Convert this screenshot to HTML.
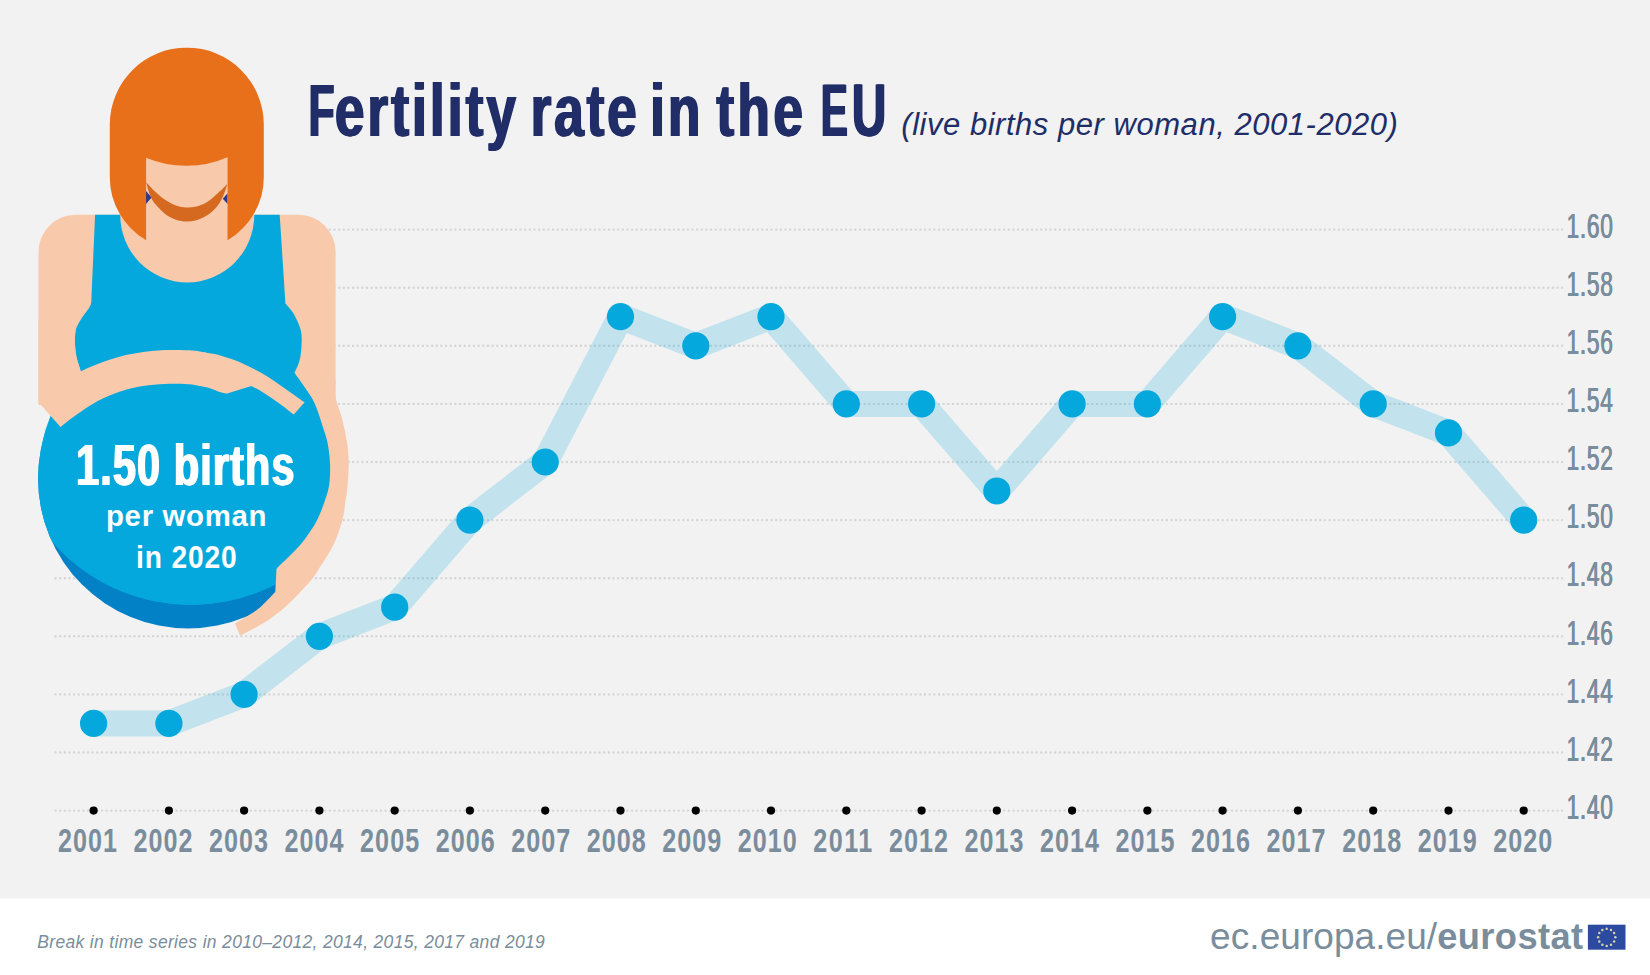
<!DOCTYPE html>
<html><head><meta charset="utf-8"><title>Fertility rate in the EU</title>
<style>html,body{margin:0;padding:0;background:#f2f2f2;}body{width:1650px;height:975px;overflow:hidden;font-family:"Liberation Sans",sans-serif;}svg{display:block}</style>
</head><body>
<svg width="1650" height="975" viewBox="0 0 1650 975">
<rect x="0" y="0" width="1650" height="975" fill="#f2f2f2"/>
<rect x="0" y="898.5" width="1650" height="76.5" fill="#ffffff"/>
<line x1="55.5" y1="810.6" x2="1563" y2="810.6" stroke="#d4d5d6" stroke-width="2.4" stroke-linecap="round" stroke-dasharray="0 4.65"/>
<line x1="55.5" y1="752.5" x2="1563" y2="752.5" stroke="#d4d5d6" stroke-width="2.4" stroke-linecap="round" stroke-dasharray="0 4.65"/>
<line x1="55.5" y1="694.4" x2="1563" y2="694.4" stroke="#d4d5d6" stroke-width="2.4" stroke-linecap="round" stroke-dasharray="0 4.65"/>
<line x1="55.5" y1="636.3" x2="1563" y2="636.3" stroke="#d4d5d6" stroke-width="2.4" stroke-linecap="round" stroke-dasharray="0 4.65"/>
<line x1="55.5" y1="578.2" x2="1563" y2="578.2" stroke="#d4d5d6" stroke-width="2.4" stroke-linecap="round" stroke-dasharray="0 4.65"/>
<line x1="55.5" y1="520.1" x2="1563" y2="520.1" stroke="#d4d5d6" stroke-width="2.4" stroke-linecap="round" stroke-dasharray="0 4.65"/>
<line x1="55.5" y1="462.0" x2="1563" y2="462.0" stroke="#d4d5d6" stroke-width="2.4" stroke-linecap="round" stroke-dasharray="0 4.65"/>
<line x1="55.5" y1="403.9" x2="1563" y2="403.9" stroke="#d4d5d6" stroke-width="2.4" stroke-linecap="round" stroke-dasharray="0 4.65"/>
<line x1="55.5" y1="345.8" x2="1563" y2="345.8" stroke="#d4d5d6" stroke-width="2.4" stroke-linecap="round" stroke-dasharray="0 4.65"/>
<line x1="55.5" y1="287.7" x2="1563" y2="287.7" stroke="#d4d5d6" stroke-width="2.4" stroke-linecap="round" stroke-dasharray="0 4.65"/>
<line x1="55.5" y1="229.6" x2="1563" y2="229.6" stroke="#d4d5d6" stroke-width="2.4" stroke-linecap="round" stroke-dasharray="0 4.65"/>
<polyline points="93.6,723.4 168.9,723.4 244.1,694.4 319.4,636.3 394.7,607.2 469.9,520.1 545.2,462.0 620.5,316.7 695.8,345.8 771.0,316.7 846.3,403.9 921.6,403.9 996.8,491.0 1072.1,403.9 1147.4,403.9 1222.6,316.7 1297.9,345.8 1373.2,403.9 1448.5,432.9 1523.7,520.1" fill="none" stroke="#05a8dc" stroke-opacity="0.2" stroke-width="26" stroke-linejoin="round" stroke-linecap="round"/>
<circle cx="93.6" cy="723.4" r="13.6" fill="#05a8dc"/>
<circle cx="168.9" cy="723.4" r="13.6" fill="#05a8dc"/>
<circle cx="244.1" cy="694.4" r="13.6" fill="#05a8dc"/>
<circle cx="319.4" cy="636.3" r="13.6" fill="#05a8dc"/>
<circle cx="394.7" cy="607.2" r="13.6" fill="#05a8dc"/>
<circle cx="469.9" cy="520.1" r="13.6" fill="#05a8dc"/>
<circle cx="545.2" cy="462.0" r="13.6" fill="#05a8dc"/>
<circle cx="620.5" cy="316.7" r="13.6" fill="#05a8dc"/>
<circle cx="695.8" cy="345.8" r="13.6" fill="#05a8dc"/>
<circle cx="771.0" cy="316.7" r="13.6" fill="#05a8dc"/>
<circle cx="846.3" cy="403.9" r="13.6" fill="#05a8dc"/>
<circle cx="921.6" cy="403.9" r="13.6" fill="#05a8dc"/>
<circle cx="996.8" cy="491.0" r="13.6" fill="#05a8dc"/>
<circle cx="1072.1" cy="403.9" r="13.6" fill="#05a8dc"/>
<circle cx="1147.4" cy="403.9" r="13.6" fill="#05a8dc"/>
<circle cx="1222.6" cy="316.7" r="13.6" fill="#05a8dc"/>
<circle cx="1297.9" cy="345.8" r="13.6" fill="#05a8dc"/>
<circle cx="1373.2" cy="403.9" r="13.6" fill="#05a8dc"/>
<circle cx="1448.5" cy="432.9" r="13.6" fill="#05a8dc"/>
<circle cx="1523.7" cy="520.1" r="13.6" fill="#05a8dc"/>
<circle cx="93.6" cy="810.6" r="4.1" fill="#000"/>
<circle cx="168.9" cy="810.6" r="4.1" fill="#000"/>
<circle cx="244.1" cy="810.6" r="4.1" fill="#000"/>
<circle cx="319.4" cy="810.6" r="4.1" fill="#000"/>
<circle cx="394.7" cy="810.6" r="4.1" fill="#000"/>
<circle cx="469.9" cy="810.6" r="4.1" fill="#000"/>
<circle cx="545.2" cy="810.6" r="4.1" fill="#000"/>
<circle cx="620.5" cy="810.6" r="4.1" fill="#000"/>
<circle cx="695.8" cy="810.6" r="4.1" fill="#000"/>
<circle cx="771.0" cy="810.6" r="4.1" fill="#000"/>
<circle cx="846.3" cy="810.6" r="4.1" fill="#000"/>
<circle cx="921.6" cy="810.6" r="4.1" fill="#000"/>
<circle cx="996.8" cy="810.6" r="4.1" fill="#000"/>
<circle cx="1072.1" cy="810.6" r="4.1" fill="#000"/>
<circle cx="1147.4" cy="810.6" r="4.1" fill="#000"/>
<circle cx="1222.6" cy="810.6" r="4.1" fill="#000"/>
<circle cx="1297.9" cy="810.6" r="4.1" fill="#000"/>
<circle cx="1373.2" cy="810.6" r="4.1" fill="#000"/>
<circle cx="1448.5" cy="810.6" r="4.1" fill="#000"/>
<circle cx="1523.7" cy="810.6" r="4.1" fill="#000"/>
<g transform="translate(57.96,852) scale(0.74,1)"><text x="0" y="0" font-family="Liberation Sans, sans-serif" font-weight="bold" font-size="34" fill="#7a8d9c" textLength="79.73" lengthAdjust="spacing">2001</text></g>
<g transform="translate(133.50,852) scale(0.74,1)"><text x="0" y="0" font-family="Liberation Sans, sans-serif" font-weight="bold" font-size="34" fill="#7a8d9c" textLength="79.73" lengthAdjust="spacing">2002</text></g>
<g transform="translate(209.04,852) scale(0.74,1)"><text x="0" y="0" font-family="Liberation Sans, sans-serif" font-weight="bold" font-size="34" fill="#7a8d9c" textLength="79.73" lengthAdjust="spacing">2003</text></g>
<g transform="translate(284.58,852) scale(0.74,1)"><text x="0" y="0" font-family="Liberation Sans, sans-serif" font-weight="bold" font-size="34" fill="#7a8d9c" textLength="79.73" lengthAdjust="spacing">2004</text></g>
<g transform="translate(360.12,852) scale(0.74,1)"><text x="0" y="0" font-family="Liberation Sans, sans-serif" font-weight="bold" font-size="34" fill="#7a8d9c" textLength="79.73" lengthAdjust="spacing">2005</text></g>
<g transform="translate(435.66,852) scale(0.74,1)"><text x="0" y="0" font-family="Liberation Sans, sans-serif" font-weight="bold" font-size="34" fill="#7a8d9c" textLength="79.73" lengthAdjust="spacing">2006</text></g>
<g transform="translate(511.20,852) scale(0.74,1)"><text x="0" y="0" font-family="Liberation Sans, sans-serif" font-weight="bold" font-size="34" fill="#7a8d9c" textLength="79.73" lengthAdjust="spacing">2007</text></g>
<g transform="translate(586.74,852) scale(0.74,1)"><text x="0" y="0" font-family="Liberation Sans, sans-serif" font-weight="bold" font-size="34" fill="#7a8d9c" textLength="79.73" lengthAdjust="spacing">2008</text></g>
<g transform="translate(662.28,852) scale(0.74,1)"><text x="0" y="0" font-family="Liberation Sans, sans-serif" font-weight="bold" font-size="34" fill="#7a8d9c" textLength="79.73" lengthAdjust="spacing">2009</text></g>
<g transform="translate(737.82,852) scale(0.74,1)"><text x="0" y="0" font-family="Liberation Sans, sans-serif" font-weight="bold" font-size="34" fill="#7a8d9c" textLength="79.73" lengthAdjust="spacing">2010</text></g>
<g transform="translate(813.36,852) scale(0.74,1)"><text x="0" y="0" font-family="Liberation Sans, sans-serif" font-weight="bold" font-size="34" fill="#7a8d9c" textLength="79.73" lengthAdjust="spacing">2011</text></g>
<g transform="translate(888.90,852) scale(0.74,1)"><text x="0" y="0" font-family="Liberation Sans, sans-serif" font-weight="bold" font-size="34" fill="#7a8d9c" textLength="79.73" lengthAdjust="spacing">2012</text></g>
<g transform="translate(964.44,852) scale(0.74,1)"><text x="0" y="0" font-family="Liberation Sans, sans-serif" font-weight="bold" font-size="34" fill="#7a8d9c" textLength="79.73" lengthAdjust="spacing">2013</text></g>
<g transform="translate(1039.98,852) scale(0.74,1)"><text x="0" y="0" font-family="Liberation Sans, sans-serif" font-weight="bold" font-size="34" fill="#7a8d9c" textLength="79.73" lengthAdjust="spacing">2014</text></g>
<g transform="translate(1115.52,852) scale(0.74,1)"><text x="0" y="0" font-family="Liberation Sans, sans-serif" font-weight="bold" font-size="34" fill="#7a8d9c" textLength="79.73" lengthAdjust="spacing">2015</text></g>
<g transform="translate(1191.06,852) scale(0.74,1)"><text x="0" y="0" font-family="Liberation Sans, sans-serif" font-weight="bold" font-size="34" fill="#7a8d9c" textLength="79.73" lengthAdjust="spacing">2016</text></g>
<g transform="translate(1266.60,852) scale(0.74,1)"><text x="0" y="0" font-family="Liberation Sans, sans-serif" font-weight="bold" font-size="34" fill="#7a8d9c" textLength="79.73" lengthAdjust="spacing">2017</text></g>
<g transform="translate(1342.14,852) scale(0.74,1)"><text x="0" y="0" font-family="Liberation Sans, sans-serif" font-weight="bold" font-size="34" fill="#7a8d9c" textLength="79.73" lengthAdjust="spacing">2018</text></g>
<g transform="translate(1417.68,852) scale(0.74,1)"><text x="0" y="0" font-family="Liberation Sans, sans-serif" font-weight="bold" font-size="34" fill="#7a8d9c" textLength="79.73" lengthAdjust="spacing">2019</text></g>
<g transform="translate(1493.22,852) scale(0.74,1)"><text x="0" y="0" font-family="Liberation Sans, sans-serif" font-weight="bold" font-size="34" fill="#7a8d9c" textLength="79.73" lengthAdjust="spacing">2020</text></g>
<g transform="translate(1566.20,818.8) scale(0.66,1)"><text x="0" y="0" font-family="Liberation Sans, sans-serif" font-weight="normal" font-size="34.5" fill="#7a8d9c" textLength="70.30" lengthAdjust="spacing">1.40</text></g>
<g transform="translate(1566.50,818.8) scale(0.66,1)"><text x="0" y="0" font-family="Liberation Sans, sans-serif" font-weight="normal" font-size="34.5" fill="#7a8d9c" textLength="70.30" lengthAdjust="spacing">1.40</text></g>
<g transform="translate(1566.80,818.8) scale(0.66,1)"><text x="0" y="0" font-family="Liberation Sans, sans-serif" font-weight="normal" font-size="34.5" fill="#7a8d9c" textLength="70.30" lengthAdjust="spacing">1.40</text></g>
<g transform="translate(1566.20,760.7) scale(0.66,1)"><text x="0" y="0" font-family="Liberation Sans, sans-serif" font-weight="normal" font-size="34.5" fill="#7a8d9c" textLength="70.30" lengthAdjust="spacing">1.42</text></g>
<g transform="translate(1566.50,760.7) scale(0.66,1)"><text x="0" y="0" font-family="Liberation Sans, sans-serif" font-weight="normal" font-size="34.5" fill="#7a8d9c" textLength="70.30" lengthAdjust="spacing">1.42</text></g>
<g transform="translate(1566.80,760.7) scale(0.66,1)"><text x="0" y="0" font-family="Liberation Sans, sans-serif" font-weight="normal" font-size="34.5" fill="#7a8d9c" textLength="70.30" lengthAdjust="spacing">1.42</text></g>
<g transform="translate(1566.20,702.6) scale(0.66,1)"><text x="0" y="0" font-family="Liberation Sans, sans-serif" font-weight="normal" font-size="34.5" fill="#7a8d9c" textLength="70.30" lengthAdjust="spacing">1.44</text></g>
<g transform="translate(1566.50,702.6) scale(0.66,1)"><text x="0" y="0" font-family="Liberation Sans, sans-serif" font-weight="normal" font-size="34.5" fill="#7a8d9c" textLength="70.30" lengthAdjust="spacing">1.44</text></g>
<g transform="translate(1566.80,702.6) scale(0.66,1)"><text x="0" y="0" font-family="Liberation Sans, sans-serif" font-weight="normal" font-size="34.5" fill="#7a8d9c" textLength="70.30" lengthAdjust="spacing">1.44</text></g>
<g transform="translate(1566.20,644.5) scale(0.66,1)"><text x="0" y="0" font-family="Liberation Sans, sans-serif" font-weight="normal" font-size="34.5" fill="#7a8d9c" textLength="70.30" lengthAdjust="spacing">1.46</text></g>
<g transform="translate(1566.50,644.5) scale(0.66,1)"><text x="0" y="0" font-family="Liberation Sans, sans-serif" font-weight="normal" font-size="34.5" fill="#7a8d9c" textLength="70.30" lengthAdjust="spacing">1.46</text></g>
<g transform="translate(1566.80,644.5) scale(0.66,1)"><text x="0" y="0" font-family="Liberation Sans, sans-serif" font-weight="normal" font-size="34.5" fill="#7a8d9c" textLength="70.30" lengthAdjust="spacing">1.46</text></g>
<g transform="translate(1566.20,586.4) scale(0.66,1)"><text x="0" y="0" font-family="Liberation Sans, sans-serif" font-weight="normal" font-size="34.5" fill="#7a8d9c" textLength="70.30" lengthAdjust="spacing">1.48</text></g>
<g transform="translate(1566.50,586.4) scale(0.66,1)"><text x="0" y="0" font-family="Liberation Sans, sans-serif" font-weight="normal" font-size="34.5" fill="#7a8d9c" textLength="70.30" lengthAdjust="spacing">1.48</text></g>
<g transform="translate(1566.80,586.4) scale(0.66,1)"><text x="0" y="0" font-family="Liberation Sans, sans-serif" font-weight="normal" font-size="34.5" fill="#7a8d9c" textLength="70.30" lengthAdjust="spacing">1.48</text></g>
<g transform="translate(1566.20,528.3) scale(0.66,1)"><text x="0" y="0" font-family="Liberation Sans, sans-serif" font-weight="normal" font-size="34.5" fill="#7a8d9c" textLength="70.30" lengthAdjust="spacing">1.50</text></g>
<g transform="translate(1566.50,528.3) scale(0.66,1)"><text x="0" y="0" font-family="Liberation Sans, sans-serif" font-weight="normal" font-size="34.5" fill="#7a8d9c" textLength="70.30" lengthAdjust="spacing">1.50</text></g>
<g transform="translate(1566.80,528.3) scale(0.66,1)"><text x="0" y="0" font-family="Liberation Sans, sans-serif" font-weight="normal" font-size="34.5" fill="#7a8d9c" textLength="70.30" lengthAdjust="spacing">1.50</text></g>
<g transform="translate(1566.20,470.2) scale(0.66,1)"><text x="0" y="0" font-family="Liberation Sans, sans-serif" font-weight="normal" font-size="34.5" fill="#7a8d9c" textLength="70.30" lengthAdjust="spacing">1.52</text></g>
<g transform="translate(1566.50,470.2) scale(0.66,1)"><text x="0" y="0" font-family="Liberation Sans, sans-serif" font-weight="normal" font-size="34.5" fill="#7a8d9c" textLength="70.30" lengthAdjust="spacing">1.52</text></g>
<g transform="translate(1566.80,470.2) scale(0.66,1)"><text x="0" y="0" font-family="Liberation Sans, sans-serif" font-weight="normal" font-size="34.5" fill="#7a8d9c" textLength="70.30" lengthAdjust="spacing">1.52</text></g>
<g transform="translate(1566.20,412.1) scale(0.66,1)"><text x="0" y="0" font-family="Liberation Sans, sans-serif" font-weight="normal" font-size="34.5" fill="#7a8d9c" textLength="70.30" lengthAdjust="spacing">1.54</text></g>
<g transform="translate(1566.50,412.1) scale(0.66,1)"><text x="0" y="0" font-family="Liberation Sans, sans-serif" font-weight="normal" font-size="34.5" fill="#7a8d9c" textLength="70.30" lengthAdjust="spacing">1.54</text></g>
<g transform="translate(1566.80,412.1) scale(0.66,1)"><text x="0" y="0" font-family="Liberation Sans, sans-serif" font-weight="normal" font-size="34.5" fill="#7a8d9c" textLength="70.30" lengthAdjust="spacing">1.54</text></g>
<g transform="translate(1566.20,354.0) scale(0.66,1)"><text x="0" y="0" font-family="Liberation Sans, sans-serif" font-weight="normal" font-size="34.5" fill="#7a8d9c" textLength="70.30" lengthAdjust="spacing">1.56</text></g>
<g transform="translate(1566.50,354.0) scale(0.66,1)"><text x="0" y="0" font-family="Liberation Sans, sans-serif" font-weight="normal" font-size="34.5" fill="#7a8d9c" textLength="70.30" lengthAdjust="spacing">1.56</text></g>
<g transform="translate(1566.80,354.0) scale(0.66,1)"><text x="0" y="0" font-family="Liberation Sans, sans-serif" font-weight="normal" font-size="34.5" fill="#7a8d9c" textLength="70.30" lengthAdjust="spacing">1.56</text></g>
<g transform="translate(1566.20,295.9) scale(0.66,1)"><text x="0" y="0" font-family="Liberation Sans, sans-serif" font-weight="normal" font-size="34.5" fill="#7a8d9c" textLength="70.30" lengthAdjust="spacing">1.58</text></g>
<g transform="translate(1566.50,295.9) scale(0.66,1)"><text x="0" y="0" font-family="Liberation Sans, sans-serif" font-weight="normal" font-size="34.5" fill="#7a8d9c" textLength="70.30" lengthAdjust="spacing">1.58</text></g>
<g transform="translate(1566.80,295.9) scale(0.66,1)"><text x="0" y="0" font-family="Liberation Sans, sans-serif" font-weight="normal" font-size="34.5" fill="#7a8d9c" textLength="70.30" lengthAdjust="spacing">1.58</text></g>
<g transform="translate(1566.20,237.8) scale(0.66,1)"><text x="0" y="0" font-family="Liberation Sans, sans-serif" font-weight="normal" font-size="34.5" fill="#7a8d9c" textLength="70.30" lengthAdjust="spacing">1.60</text></g>
<g transform="translate(1566.50,237.8) scale(0.66,1)"><text x="0" y="0" font-family="Liberation Sans, sans-serif" font-weight="normal" font-size="34.5" fill="#7a8d9c" textLength="70.30" lengthAdjust="spacing">1.60</text></g>
<g transform="translate(1566.80,237.8) scale(0.66,1)"><text x="0" y="0" font-family="Liberation Sans, sans-serif" font-weight="normal" font-size="34.5" fill="#7a8d9c" textLength="70.30" lengthAdjust="spacing">1.60</text></g>
<path d="M38.5,405 L38.5,251.8 A37,37 0 0 1 75.5,214.8 L298.6,214.8 A37,37 0 0 1 335.6,251.8 L335.6,405 Z" fill="#f8c9ab"/>
<defs><clipPath id="bc"><circle cx="191" cy="420.2" r="184.7"/></clipPath></defs>
<defs><clipPath id="lowc"><rect x="0" y="505" width="400" height="200"/></clipPath></defs>
<circle cx="188" cy="478.6" r="149.9" fill="#0381c6"/>
<g clip-path="url(#bc)"><circle cx="188" cy="478.6" r="149.9" fill="#05a8dc"/><circle cx="184.8" cy="472" r="145.5" fill="#05a8dc"/></g>
<path d="M335.6,380 C335.6,382.9 334.6,391.2 335.6,397.5 C336.7,403.8 340.0,410.5 341.9,418.0 C343.8,425.5 345.9,435.1 347.0,442.6 C348.1,450.1 348.6,455.7 348.7,463.2 C348.8,470.7 347.9,481.7 347.4,487.8 C346.9,493.9 346.5,494.6 345.6,500.0 C344.8,505.4 344.4,513.0 342.3,520.5 C340.2,528.0 336.9,537.6 333.3,545.1 C329.8,552.6 324.7,559.8 321.0,565.6 C317.3,571.4 316.4,573.9 311.2,580.0 C306.0,586.1 296.9,596.0 290.0,602.5 C283.1,609.0 276.7,614.3 270.0,619.0 C263.3,623.7 255.0,627.8 250.0,630.5 C245.0,633.2 241.7,634.7 240.0,635.5 L235,623.5 C238.8,621.1 251.3,614.2 258.0,609.0 C264.7,603.8 272.4,594.8 275.3,592.0 L275.3,592 L276.5,569 L278,567 C280.4,564.7 287.9,557.9 292.3,553.3 C296.7,548.7 300.5,544.9 304.6,539.4 C308.7,533.9 313.5,527.1 316.9,520.5 C320.3,513.9 323.0,506.1 325.1,500.0 C327.2,493.9 328.5,490.1 329.3,484.0 C330.1,477.9 330.3,470.1 330.0,463.2 C329.7,456.3 328.7,448.6 327.5,442.6 C326.3,436.6 324.6,432.5 323.0,427.4 C321.4,422.3 319.7,416.6 318.0,412.0 C316.3,407.4 315.4,404.3 312.8,399.7 C310.2,395.1 305.7,388.8 302.6,384.4 C299.5,380.0 295.8,375.0 294.4,373.1 L300,360 Z" fill="#f8c9ab"/>
<path d="M95.1,214.8 L91.4,298.5 C91.2,299.7 91.8,302.6 90.2,305.9 C88.6,309.2 84.0,314.2 81.6,318.2 C79.2,322.2 76.8,326.1 75.7,330.0 C74.6,333.9 74.8,337.0 74.9,341.3 C75.0,345.6 75.3,351.0 76.3,356.0 C77.3,361.0 80.0,368.7 80.8,371.2 L120,400 L290,400 L312.8,399.7 L302.6,384.4 L294.4,373.1 C295.2,371.1 298.3,365.4 299.5,360.8 C300.7,356.2 301.3,350.5 301.5,345.4 C301.7,340.3 302.1,335.4 300.7,330.0 C299.3,324.6 295.9,317.7 293.3,313.3 C290.8,308.9 286.7,305.0 285.4,303.4 L279.7,214.8 L254.3,214.8 A67,67.6 0 0 1 120.2,214.8 Z" fill="#05a8dc"/>
<path d="M38.5,320 L38.5,402.2 L60.5,427.1 C62.9,425.2 68.9,420.1 75.1,415.8 C81.3,411.5 90.2,405.2 97.7,401.1 C105.2,397.1 112.8,394.0 120.3,391.5 C127.8,389.0 135.4,387.2 142.9,385.9 C150.4,384.6 157.9,384.2 165.4,383.9 C172.9,383.6 182.2,383.8 188.0,384.2 C193.8,384.6 196.3,385.3 200.0,386.0 C203.7,386.7 206.6,387.2 210.0,388.3 C213.4,389.4 217.6,391.4 220.5,392.3 C223.4,393.2 226.1,393.4 227.2,393.6 L251.3,385.9 C253.0,386.8 258.1,389.4 261.5,391.5 C264.9,393.6 268.4,395.9 271.8,398.2 C275.2,400.5 278.3,402.7 282.0,405.4 C285.7,408.1 291.8,413.1 293.8,414.6 L304.6,402.3 C300.8,399.6 289.2,391.3 282.0,386.4 C274.8,381.5 268.3,377.0 261.5,373.1 C254.7,369.2 247.8,365.7 241.0,362.8 C234.2,359.9 225.7,357.2 220.5,355.6 C215.3,354.0 213.4,354.0 210.0,353.3 C206.6,352.6 203.7,351.9 200.0,351.4 C196.3,350.9 193.8,350.5 188.0,350.3 C182.2,350.1 172.9,349.8 165.4,350.1 C157.9,350.4 150.4,350.9 142.9,352.0 C135.4,353.1 127.8,354.5 120.3,356.5 C112.8,358.5 104.3,361.4 97.7,363.9 C91.1,366.3 83.6,370.0 80.8,371.2 C80.0,368.7 77.3,361.0 76.3,356.0 C75.3,351.0 75.0,345.6 74.9,341.3 C74.8,337.0 75.6,331.9 75.7,330.0 L60,318 Z" fill="#f8c9ab"/>
<rect x="146" y="150" width="81.6" height="70" fill="#f8c9ab"/>
<path d="M146,191 L151.6,197.6 L146,204 Z" fill="#2b3990"/>
<path d="M227.6,193.2 L222.8,198.8 L227.6,204 Z" fill="#2b3990"/>
<path d="M146.1,182.3 C146.8,184.6 148.8,192.4 150.4,196.1 C152.0,199.8 152.9,201.2 155.5,204.3 C158.1,207.4 162.4,212.0 165.8,214.6 C169.2,217.2 172.6,218.5 176.0,219.7 C179.4,220.9 182.9,221.5 186.3,221.6 C189.7,221.7 193.1,221.2 196.5,220.2 C199.9,219.2 203.4,217.9 206.8,215.6 C210.2,213.3 214.3,209.7 217.0,206.4 C219.7,203.2 221.4,199.9 223.2,196.1 C224.9,192.3 226.8,185.9 227.5,183.8 C225.8,185.5 220.4,191.0 217.0,194.1 C213.6,197.2 210.2,200.2 206.8,202.3 C203.4,204.4 199.9,205.6 196.5,206.4 C193.1,207.2 189.7,207.6 186.3,207.4 C182.9,207.2 179.4,206.6 176.0,205.4 C172.6,204.2 169.2,202.4 165.8,200.2 C162.4,198.0 158.8,195.0 155.5,192.0 C152.2,189.0 147.7,183.9 146.1,182.3 Z" fill="#d4691f"/>
<path d="M109.8,124.6 A77,77 0 0 1 263.8,124.6 L263.8,177 A77,74 0 0 1 227.5,240.2 L227.5,157.2 A103,103 0 0 1 146.1,157.7 L146.1,240.2 A77,74 0 0 1 109.8,177 Z" fill="#e9701a"/>
<g transform="translate(75.30,484.9) scale(0.72,1)"><text x="0" y="0" font-family="Liberation Sans, sans-serif" font-weight="bold" font-size="57.5" fill="#fff" textLength="303.33" lengthAdjust="spacing">1.50 births</text></g>
<g transform="translate(76.10,484.9) scale(0.72,1)"><text x="0" y="0" font-family="Liberation Sans, sans-serif" font-weight="bold" font-size="57.5" fill="#fff" textLength="303.33" lengthAdjust="spacing">1.50 births</text></g>
<g transform="translate(76.90,484.9) scale(0.72,1)"><text x="0" y="0" font-family="Liberation Sans, sans-serif" font-weight="bold" font-size="57.5" fill="#fff" textLength="303.33" lengthAdjust="spacing">1.50 births</text></g>
<g transform="translate(106.00,525.8) scale(0.97,1)"><text x="0" y="0" font-family="Liberation Sans, sans-serif" font-weight="bold" font-size="30.3" fill="#fff" textLength="165.46" lengthAdjust="spacing">per woman</text></g>
<g transform="translate(136.10,568.2) scale(0.88,1)"><text x="0" y="0" font-family="Liberation Sans, sans-serif" font-weight="bold" font-size="32" fill="#fff" textLength="114.20" lengthAdjust="spacing">in 2020</text></g>
<g transform="translate(307.70,135.8) scale(0.5731,1)"><text x="0" y="0" font-family="Liberation Sans, sans-serif" font-weight="bold" font-size="74" fill="#202d67">F</text></g>
<g transform="translate(308.60,135.8) scale(0.5731,1)"><text x="0" y="0" font-family="Liberation Sans, sans-serif" font-weight="bold" font-size="74" fill="#202d67">F</text></g>
<g transform="translate(309.50,135.8) scale(0.5731,1)"><text x="0" y="0" font-family="Liberation Sans, sans-serif" font-weight="bold" font-size="74" fill="#202d67">F</text></g>
<g transform="translate(820.00,135.8) scale(0.5446,1)"><text x="0" y="0" font-family="Liberation Sans, sans-serif" font-weight="bold" font-size="74" fill="#202d67">E</text></g>
<g transform="translate(820.90,135.8) scale(0.5446,1)"><text x="0" y="0" font-family="Liberation Sans, sans-serif" font-weight="bold" font-size="74" fill="#202d67">E</text></g>
<g transform="translate(821.80,135.8) scale(0.5446,1)"><text x="0" y="0" font-family="Liberation Sans, sans-serif" font-weight="bold" font-size="74" fill="#202d67">E</text></g>
<g transform="translate(851.00,135.8) scale(0.6440,1)"><text x="0" y="0" font-family="Liberation Sans, sans-serif" font-weight="bold" font-size="74" fill="#202d67">U</text></g>
<g transform="translate(851.90,135.8) scale(0.6440,1)"><text x="0" y="0" font-family="Liberation Sans, sans-serif" font-weight="bold" font-size="74" fill="#202d67">U</text></g>
<g transform="translate(852.80,135.8) scale(0.6440,1)"><text x="0" y="0" font-family="Liberation Sans, sans-serif" font-weight="bold" font-size="74" fill="#202d67">U</text></g>
<g transform="translate(333.90,135.8) scale(0.72,1)"><text x="0" y="0" font-family="Liberation Sans, sans-serif" font-weight="bold" font-size="74" fill="#202d67" textLength="251.67" lengthAdjust="spacing">ertility</text></g>
<g transform="translate(334.80,135.8) scale(0.72,1)"><text x="0" y="0" font-family="Liberation Sans, sans-serif" font-weight="bold" font-size="74" fill="#202d67" textLength="251.67" lengthAdjust="spacing">ertility</text></g>
<g transform="translate(335.70,135.8) scale(0.72,1)"><text x="0" y="0" font-family="Liberation Sans, sans-serif" font-weight="bold" font-size="74" fill="#202d67" textLength="251.67" lengthAdjust="spacing">ertility</text></g>
<g transform="translate(529.70,135.8) scale(0.72,1)"><text x="0" y="0" font-family="Liberation Sans, sans-serif" font-weight="bold" font-size="74" fill="#202d67" textLength="147.50" lengthAdjust="spacing">rate</text></g>
<g transform="translate(530.60,135.8) scale(0.72,1)"><text x="0" y="0" font-family="Liberation Sans, sans-serif" font-weight="bold" font-size="74" fill="#202d67" textLength="147.50" lengthAdjust="spacing">rate</text></g>
<g transform="translate(531.50,135.8) scale(0.72,1)"><text x="0" y="0" font-family="Liberation Sans, sans-serif" font-weight="bold" font-size="74" fill="#202d67" textLength="147.50" lengthAdjust="spacing">rate</text></g>
<g transform="translate(649.30,135.8) scale(0.72,1)"><text x="0" y="0" font-family="Liberation Sans, sans-serif" font-weight="bold" font-size="74" fill="#202d67" textLength="69.72" lengthAdjust="spacing">in</text></g>
<g transform="translate(650.20,135.8) scale(0.72,1)"><text x="0" y="0" font-family="Liberation Sans, sans-serif" font-weight="bold" font-size="74" fill="#202d67" textLength="69.72" lengthAdjust="spacing">in</text></g>
<g transform="translate(651.10,135.8) scale(0.72,1)"><text x="0" y="0" font-family="Liberation Sans, sans-serif" font-weight="bold" font-size="74" fill="#202d67" textLength="69.72" lengthAdjust="spacing">in</text></g>
<g transform="translate(715.40,135.8) scale(0.72,1)"><text x="0" y="0" font-family="Liberation Sans, sans-serif" font-weight="bold" font-size="74" fill="#202d67" textLength="120.42" lengthAdjust="spacing">the</text></g>
<g transform="translate(716.30,135.8) scale(0.72,1)"><text x="0" y="0" font-family="Liberation Sans, sans-serif" font-weight="bold" font-size="74" fill="#202d67" textLength="120.42" lengthAdjust="spacing">the</text></g>
<g transform="translate(717.20,135.8) scale(0.72,1)"><text x="0" y="0" font-family="Liberation Sans, sans-serif" font-weight="bold" font-size="74" fill="#202d67" textLength="120.42" lengthAdjust="spacing">the</text></g>
<g transform="translate(901.30,134.8) scale(1.0,1)"><text x="0" y="0" font-family="Liberation Sans, sans-serif" font-weight="normal" font-style="italic" font-size="31" fill="#202d67" textLength="496.50" lengthAdjust="spacing">(live births per woman, 2001-2020)</text></g>
<g transform="translate(37.30,947.5) scale(0.93,1)"><text x="0" y="0" font-family="Liberation Sans, sans-serif" font-weight="normal" font-style="italic" font-size="18.8" fill="#7a8d9c" textLength="545.70" lengthAdjust="spacing">Break in time series in 2010–2012, 2014, 2015, 2017 and 2019</text></g>
<g transform="translate(1210.10,948.7) scale(1.0,1)"><text x="0" y="0" font-family="Liberation Sans, sans-serif" font-weight="normal" font-size="37" fill="#7a8d9c" textLength="227.00" lengthAdjust="spacing">ec.europa.eu/</text></g>
<g transform="translate(1437.20,948.7) scale(0.98,1)"><text x="0" y="0" font-family="Liberation Sans, sans-serif" font-weight="bold" font-size="37" fill="#7a8d9c" textLength="148.98" lengthAdjust="spacing">eurostat</text></g>
<rect x="1587.9" y="924.7" width="37.6" height="25" fill="#2c4aa0"/>
<circle cx="1606.7" cy="928.7" r="1.25" fill="#d6d2a4"/>
<circle cx="1611.0" cy="929.9" r="1.25" fill="#d6d2a4"/>
<circle cx="1614.1" cy="933.0" r="1.25" fill="#d6d2a4"/>
<circle cx="1615.3" cy="937.3" r="1.25" fill="#d6d2a4"/>
<circle cx="1614.1" cy="941.6" r="1.25" fill="#d6d2a4"/>
<circle cx="1611.0" cy="944.7" r="1.25" fill="#d6d2a4"/>
<circle cx="1606.7" cy="945.9" r="1.25" fill="#d6d2a4"/>
<circle cx="1602.4" cy="944.7" r="1.25" fill="#d6d2a4"/>
<circle cx="1599.3" cy="941.6" r="1.25" fill="#d6d2a4"/>
<circle cx="1598.1" cy="937.3" r="1.25" fill="#d6d2a4"/>
<circle cx="1599.3" cy="933.0" r="1.25" fill="#d6d2a4"/>
<circle cx="1602.4" cy="929.9" r="1.25" fill="#d6d2a4"/>
</svg>
</body></html>
